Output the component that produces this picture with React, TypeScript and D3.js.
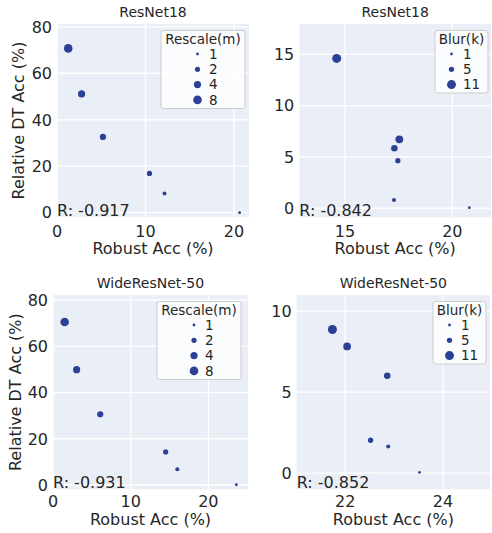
import React, { useEffect, useRef } from "react";
import { select, scaleLinear } from "d3";

// robust acc (%) and relative DT acc (%) per run
const resnetRescaleAcc = [1.27, 2.78, 5.19, 10.45, 12.15, 20.64];
const resnetRescaleDT = [70.7, 51.1, 32.6, 16.9, 8.3, 0.0];
const resnetBlurAcc = [14.61, 17.53, 17.3, 17.46, 17.28, 20.79];
const resnetBlurDT = [14.6, 6.72, 5.84, 4.64, 0.81, 0.06];
const wideRescaleAcc = [1.5, 3.04, 6.08, 14.5, 16.0, 23.6];
const wideRescaleDT = [70.5, 49.9, 30.6, 14.3, 6.8, 0.1];
const wideBlurAcc = [21.74, 22.04, 22.86, 22.52, 22.88, 23.52];
const wideBlurDT = [8.87, 7.82, 6.01, 2.03, 1.64, 0.04];

// size variables
const rescaleM = [8, 4, 3, 2, 1.5, 1];
const blurK = [11, 9, 7, 5, 3, 1];
const rescaleLegend = [1, 2, 4, 8];
const blurLegend = [1, 5, 11];

const titles = ["ResNet18", "ResNet18", "WideResNet-50", "WideResNet-50"];
const correlations = ["-0.917", "-0.842", "-0.931", "-0.852"];

const rescaleTicksX = [0, 10, 20];
const rescaleTicksY = [0, 20, 40, 60, 80];
const resnetBlurTicksX = [15, 20];
const resnetBlurTicksY = [0, 5, 10, 15];
const wideBlurTicksX = [22, 24];
const wideBlurTicksY = [0, 5, 10];

const INK = "#262626";
const DOT = "#2c4095";
const BG = "#eaeff7";
const FONT = "DejaVu Sans";

const rescaleSize = scaleLinear().domain([1, 2, 4, 8]).range([1.4, 2.6, 3.6, 4.3]);
const blurSize = scaleLinear().domain([1, 11]).range([1.4, 4.5]);

const panels = [
  {
    box: { left: 57, right: 249, top: 24, bottom: 217 },
    xDomain: [0, 21.7], yDomain: [-1.85, 81.2],
    xTicks: rescaleTicksX, yTicks: rescaleTicksY,
    xs: resnetRescaleAcc, ys: resnetRescaleDT, sizes: rescaleM,
    sizeScale: rescaleSize, legendTitle: "Rescale(m)", legendVals: rescaleLegend,
    legend: { width: 84, pad: 4, dotDx: 36.5, textDx: 48 },
    tickBase: 236.5, labelBase: 254, ylabel: true, ylabelX: 24,
  },
  {
    box: { left: 299.3, right: 491, top: 24, bottom: 217.3 },
    xDomain: [12.87, 21.8], yDomain: [-0.88, 17.95],
    xTicks: resnetBlurTicksX, yTicks: resnetBlurTicksY,
    xs: resnetBlurAcc, ys: resnetBlurDT, sizes: blurK,
    sizeScale: blurSize, legendTitle: "Blur(k)", legendVals: blurLegend,
    legend: { width: 53, pad: 3, dotDx: 16.5, textDx: 28 },
    tickBase: 236.5, labelBase: 254, ylabel: false, ylabelX: 0,
  },
  {
    box: { left: 53, right: 248, top: 295, bottom: 489.3 },
    xDomain: [0, 25.1], yDomain: [-1.86, 82.2],
    xTicks: rescaleTicksX, yTicks: rescaleTicksY,
    xs: wideRescaleAcc, ys: wideRescaleDT, sizes: rescaleM,
    sizeScale: rescaleSize, legendTitle: "Rescale(m)", legendVals: rescaleLegend,
    legend: { width: 84, pad: 7, dotDx: 37, textDx: 48 },
    tickBase: 507, labelBase: 525, ylabel: true, ylabelX: 20.7,
  },
  {
    box: { left: 296.7, right: 490, top: 295, bottom: 489.3 },
    xDomain: [21.01, 24.96], yDomain: [-1, 11],
    xTicks: wideBlurTicksX, yTicks: wideBlurTicksY,
    xs: wideBlurAcc, ys: wideBlurDT, sizes: blurK,
    sizeScale: blurSize, legendTitle: "Blur(k)", legendVals: blurLegend,
    legend: { width: 53, pad: 4, dotDx: 16.5, textDx: 28 },
    tickBase: 507, labelBase: 525, ylabel: false, ylabelX: 0,
  },
];

function App() {
  const svgRef = useRef<SVGSVGElement>(null);

  useEffect(() => {
    const svg = select(svgRef.current);
    svg.selectAll("*").remove();

    panels.forEach((p, i) => {
      const { left, right, top, bottom } = p.box;
      const x = scaleLinear().domain(p.xDomain).range([left, right]);
      const y = scaleLinear().domain(p.yDomain).range([bottom, top]);
      const g = svg.append("g").attr("font-family", FONT).attr("fill", INK);

      // background + grid
      g.append("rect")
        .attr("x", left).attr("y", top)
        .attr("width", right - left).attr("height", bottom - top)
        .attr("fill", BG);
      g.selectAll(".gx").data(p.xTicks).join("line")
        .attr("x1", d => x(d)).attr("x2", d => x(d))
        .attr("y1", top).attr("y2", bottom)
        .attr("stroke", "#fff").attr("stroke-width", 1.3);
      g.selectAll(".gy").data(p.yTicks).join("line")
        .attr("y1", d => y(d)).attr("y2", d => y(d))
        .attr("x1", left).attr("x2", right)
        .attr("stroke", "#fff").attr("stroke-width", 1.3);

      // tick labels
      g.selectAll(".tx").data(p.xTicks).join("text")
        .attr("x", d => x(d)).attr("y", p.tickBase)
        .attr("text-anchor", "middle").attr("font-size", 16)
        .text(d => d);
      g.selectAll(".ty").data(p.yTicks).join("text")
        .attr("x", left - 5).attr("y", d => y(d))
        .attr("dy", "0.36em")
        .attr("text-anchor", "end").attr("font-size", 16)
        .text(d => d);

      // labels
      g.append("text")
        .attr("x", (left + right) / 2).attr("y", p.labelBase)
        .attr("text-anchor", "middle").attr("font-size", 16)
        .text("Robust Acc (%)");
      if (p.ylabel) {
        g.append("text")
          .attr("transform", `translate(${p.ylabelX},${(top + bottom) / 2}) rotate(-90)`)
          .attr("text-anchor", "middle").attr("font-size", 16)
          .text("Relative DT Acc (%)");
      }
      g.append("text")
        .attr("x", (left + right) / 2).attr("y", top - 7)
        .attr("text-anchor", "middle").attr("font-size", 14)
        .text(titles[i]);

      // points
      g.selectAll(".pt").data(p.xs).join("circle")
        .attr("cx", d => x(d))
        .attr("cy", (_, j) => y(p.ys[j]))
        .attr("r", (_, j) => p.sizeScale(p.sizes[j]))
        .attr("fill", DOT);

      // correlation
      g.append("text")
        .attr("x", left).attr("y", bottom - 1)
        .attr("font-size", 16)
        .text(`R: ${correlations[i]}`);

      // legend
      const lw = p.legend.width;
      const lx = right - p.legend.pad - lw;
      const ly = top + 6.5;
      const lh = 16 + p.legendVals.length * 15.5;
      g.append("rect")
        .attr("x", lx).attr("y", ly).attr("width", lw).attr("height", lh)
        .attr("rx", 2.5)
        .attr("fill", "#fff").attr("fill-opacity", 0.8)
        .attr("stroke", "#cccccc").attr("stroke-width", 1);
      g.append("text")
        .attr("x", lx + lw / 2).attr("y", ly + 9)
        .attr("dy", "0.36em")
        .attr("text-anchor", "middle").attr("font-size", 13.5)
        .text(p.legendTitle);
      p.legendVals.forEach((v, k) => {
        const cy = ly + 23.5 + k * 15.3;
        g.append("circle")
          .attr("cx", lx + p.legend.dotDx).attr("cy", cy)
          .attr("r", p.sizeScale(v)).attr("fill", DOT);
        g.append("text")
          .attr("x", lx + p.legend.textDx).attr("y", cy)
          .attr("dy", "0.36em").attr("font-size", 13.5)
          .text(v);
      });
    });
  }, []);

  return (
    <svg
      ref={svgRef}
      width={492}
      height={533}
      style={{ position: "absolute", left: 0, top: 0, background: "#fff" }}
    />
  );
}

export default App;
